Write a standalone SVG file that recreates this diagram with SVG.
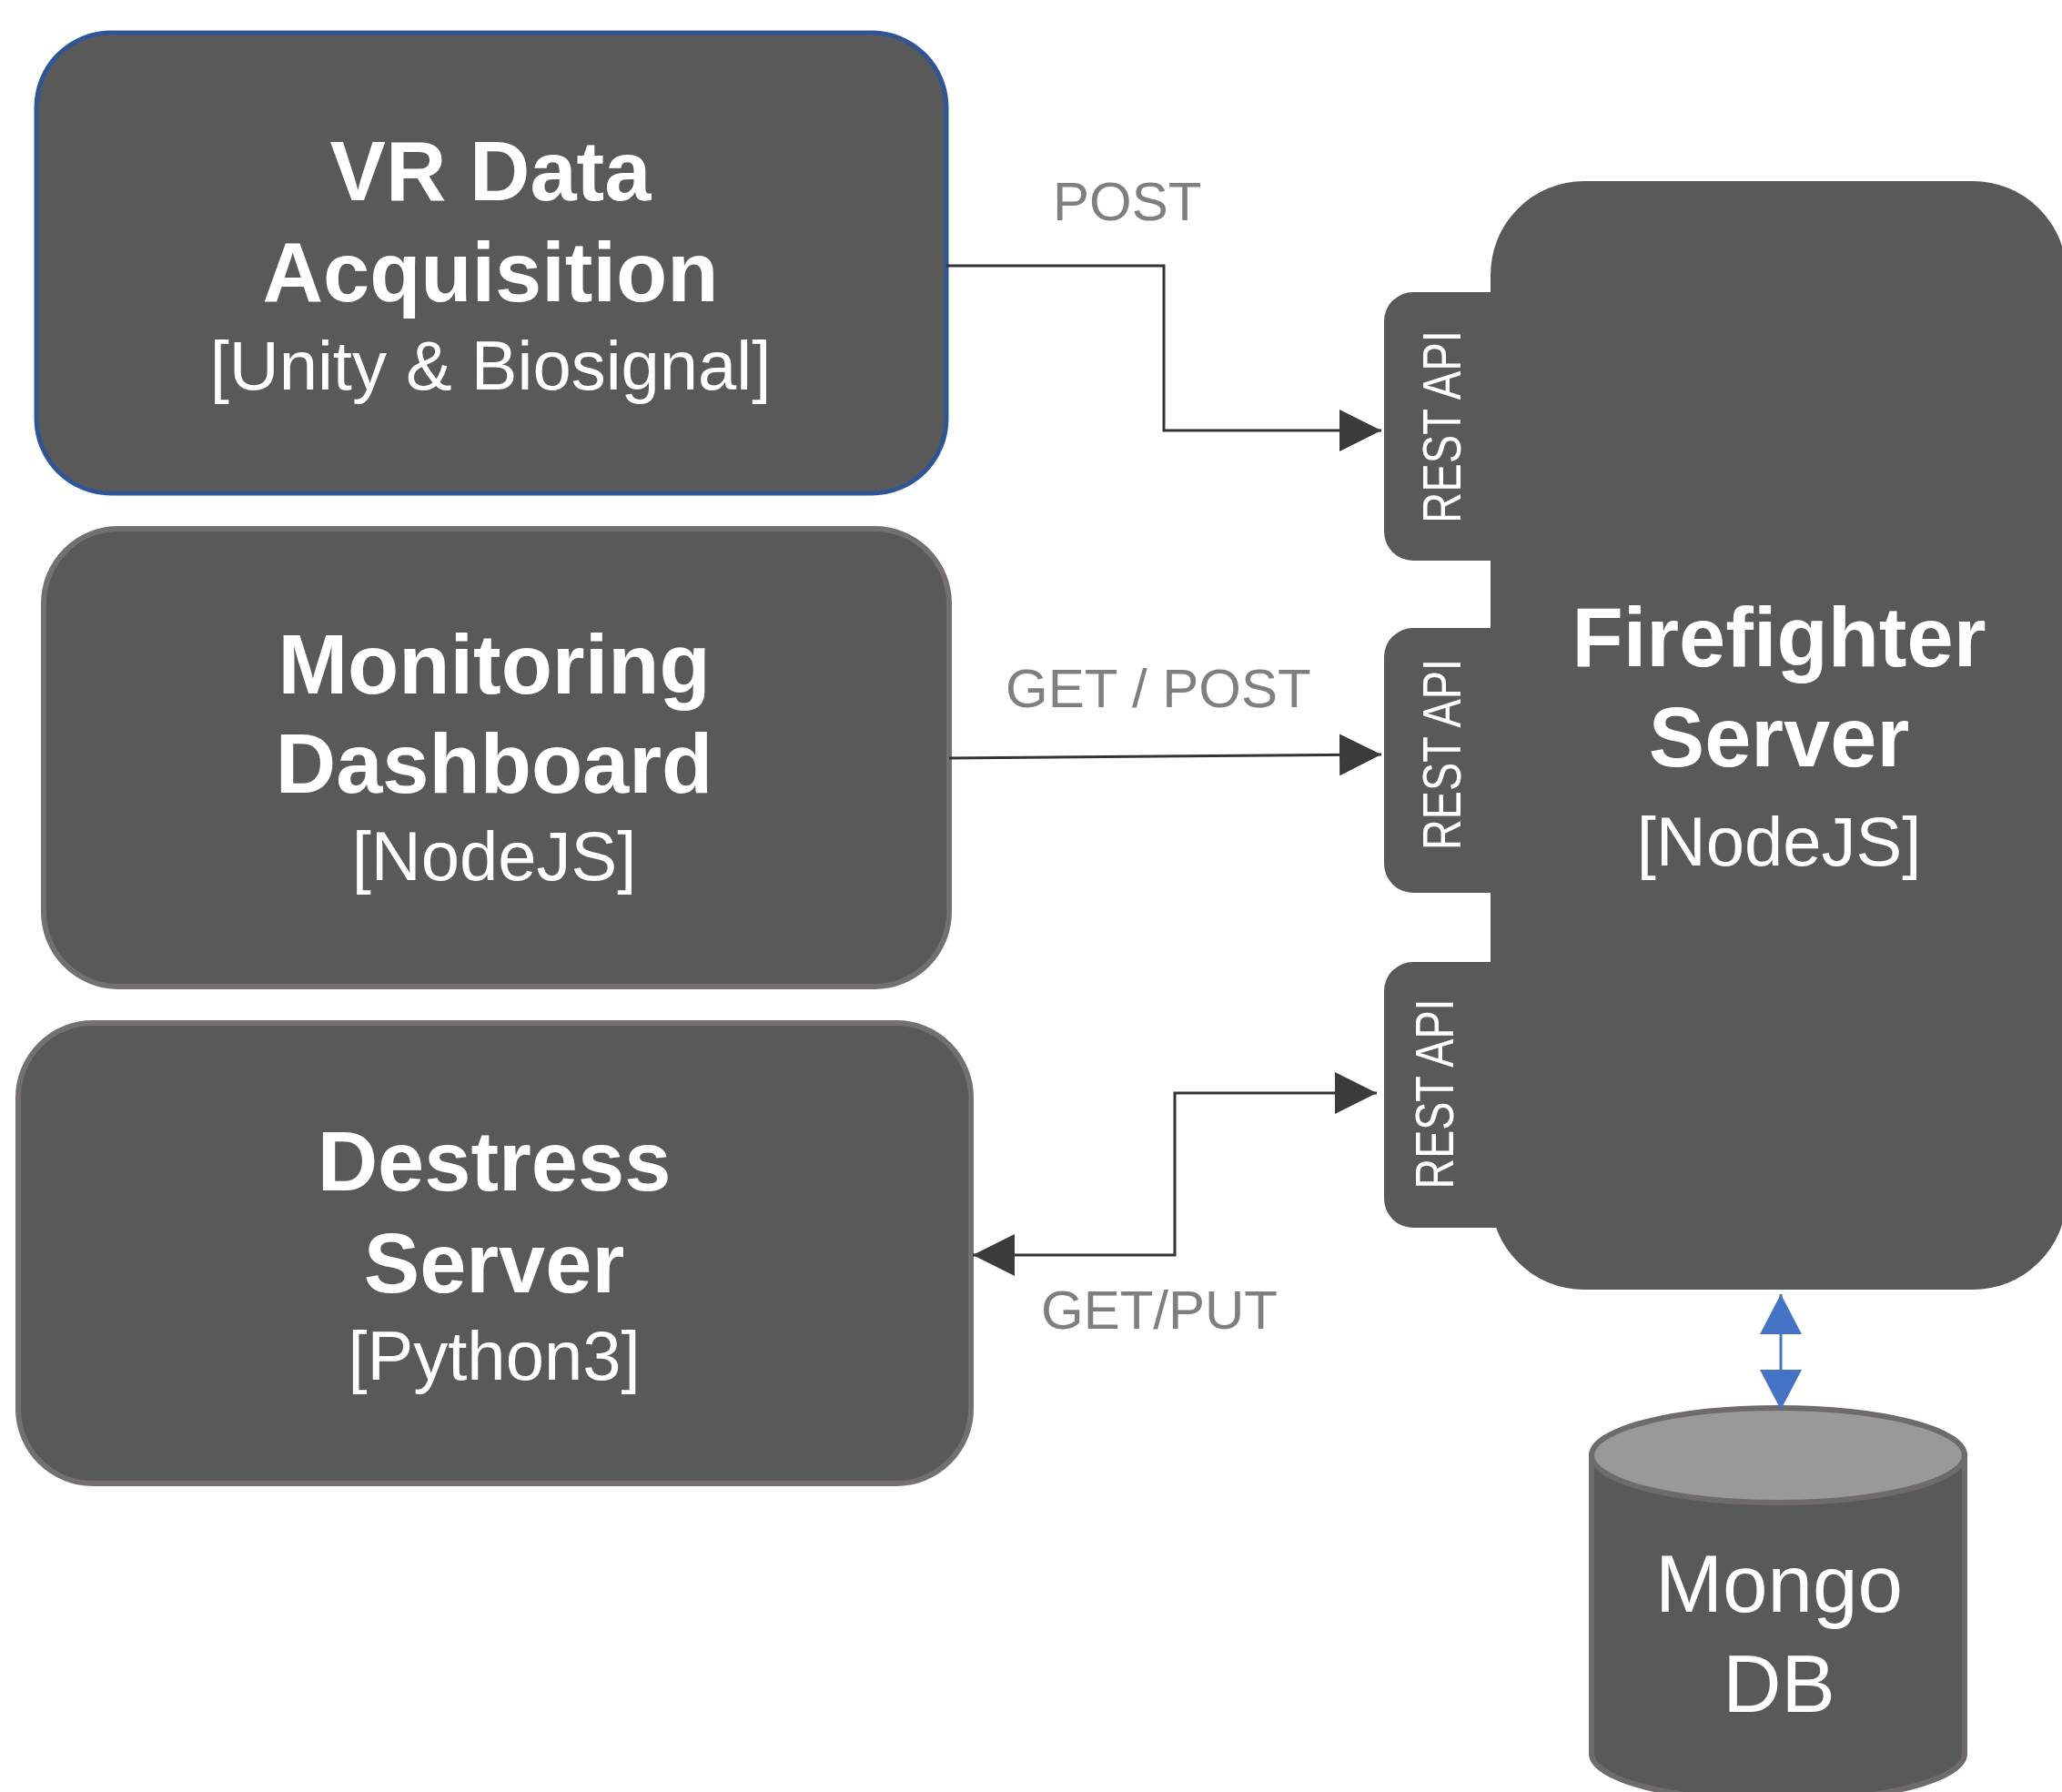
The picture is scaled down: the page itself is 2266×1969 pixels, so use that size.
<svg xmlns="http://www.w3.org/2000/svg" width="2266" height="1969" viewBox="0 0 2266 1969">
<defs>
<style>
.box{fill:#595959;stroke:#757070;stroke-width:6}
.t{font-family:"Liberation Sans",Arial,sans-serif;fill:#ffffff;text-anchor:middle}
.b{font-weight:bold;font-size:92px}
.r{font-size:76px}
.api{font-family:"Liberation Sans",Arial,sans-serif;fill:#ffffff;font-size:60px;text-anchor:middle}
.lbl{font-family:"Liberation Sans",Arial,sans-serif;fill:#7f7f7f;font-size:60px}
.ln{fill:none;stroke:#333333;stroke-width:3}
.blue{fill:none;stroke:#4472C4;stroke-width:3}
</style>
<marker id="ah" markerUnits="userSpaceOnUse" markerWidth="46" markerHeight="46" viewBox="0 0 44 44" refX="44" refY="22" orient="auto-start-reverse">
<path d="M0 0 L44 22 L0 44 Z" fill="#3b3b3b"/>
</marker>
<marker id="bh" markerUnits="userSpaceOnUse" markerWidth="46" markerHeight="46" viewBox="0 0 44 46" refX="44" refY="23" orient="auto-start-reverse">
<path d="M0 0 L44 23 L0 46 Z" fill="#4472C4"/>
</marker>
</defs>
<rect width="2266" height="1969" fill="#ffffff"/>

<g id="vr">
<rect x="40" y="36" width="1000" height="506" rx="82" ry="82" fill="#595959" stroke="#2f5597" stroke-width="5"/>
<text class="t b" x="539" y="220">VR Data</text>
<text class="t b" x="539" y="331">Acquisition</text>
<text class="t r" x="539" y="428">[Unity &amp; Biosignal]</text>
</g>

<g id="monitoring">
<rect class="box" x="48" y="581" width="995" height="503" rx="82" ry="82"/>
<text class="t b" x="543" y="762">Monitoring</text>
<text class="t b" x="543" y="871">Dashboard</text>
<text class="t r" x="543" y="967">[NodeJS]</text>
</g>

<g id="destress">
<rect class="box" x="20" y="1124" width="1047" height="506" rx="82" ry="82"/>
<text class="t b" x="543" y="1308">Destress</text>
<text class="t b" x="543" y="1420">Server</text>
<text class="t r" x="543" y="1516">[Python3]</text>
</g>

<g id="firefighter">
<path d="M1644 321 H1553 A32 32 0 0 0 1521 353 V584 A32 32 0 0 0 1553 616 H1644 Z" fill="#595959"/>
<path d="M1644 690 H1553 A32 32 0 0 0 1521 722 V949 A32 32 0 0 0 1553 981 H1644 Z" fill="#595959"/>
<path d="M1644 1057 H1553 A32 32 0 0 0 1521 1089 V1317 A32 32 0 0 0 1553 1349 H1644 Z" fill="#595959"/>
<rect x="1638" y="199" width="633" height="1218" rx="103" ry="103" fill="#595959"/>
<text class="api" transform="translate(1605 469) rotate(-90)" textLength="212" lengthAdjust="spacingAndGlyphs">REST API</text>
<text class="api" transform="translate(1605 829) rotate(-90)" textLength="210" lengthAdjust="spacingAndGlyphs">REST API</text>
<text class="api" transform="translate(1597 1202) rotate(-90)" textLength="209" lengthAdjust="spacingAndGlyphs">REST API</text>
<text class="t b" x="1955" y="732">Firefighter</text>
<text class="t b" x="1955" y="842">Server</text>
<text class="t r" x="1955" y="951">[NodeJS]</text>
</g>

<g id="mongodb">
<path d="M1749 1599 V1927 A205 52 0 0 0 2159 1927 V1599 Z" fill="#595959" stroke="#6f6b6b" stroke-width="6"/>
<ellipse cx="1954" cy="1599" rx="205" ry="52" fill="#999999" stroke="#6f6b6b" stroke-width="6"/>
<text class="t" x="1955" y="1771" font-size="89">Mongo</text>
<text class="t" x="1955" y="1881" font-size="89">DB</text>
</g>

<g id="connectors">
<polyline class="ln" points="1040,292 1279,292 1279,473 1518,473" marker-end="url(#ah)"/>
<line class="ln" x1="1043" y1="833" x2="1518" y2="829" marker-end="url(#ah)"/>
<polyline class="ln" points="1069,1379 1291,1379 1291,1201 1513,1201" marker-start="url(#ah)" marker-end="url(#ah)"/>
<line class="blue" x1="1957" y1="1422" x2="1957" y2="1549" marker-start="url(#bh)" marker-end="url(#bh)"/>
<text class="lbl" x="1157" y="242">POST</text>
<text class="lbl" x="1105" y="777">GET / POST</text>
<text class="lbl" x="1144" y="1460">GET/PUT</text>
</g>
</svg>
